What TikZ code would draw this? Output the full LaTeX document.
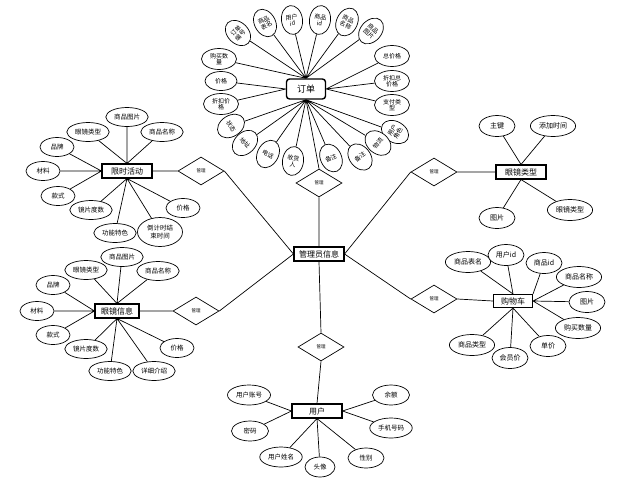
\documentclass[tikz,border=0pt]{standalone}
\usepackage{fontspec}
\setmainfont{Noto Sans CJK SC}
\usetikzlibrary{shapes.geometric}
\tikzset{
  entity/.style={draw, line width=1.1pt, minimum width=40pt, minimum height=14pt, inner xsep=4pt, inner ysep=1pt, font=\fontsize{8}{9}\selectfont},
  attr/.style={draw, fill=white, ellipse, minimum width=34pt, minimum height=19pt, inner xsep=2pt, inner ysep=1pt, font=\fontsize{6.5}{7.5}\selectfont},
  bigattr/.style={attr, minimum width=36pt, minimum height=21pt, font=\fontsize{7}{8}\selectfont},
  oattr/.style={draw, fill=white, ellipse, inner sep=0.5pt, align=center, minimum width=21pt, minimum height=29pt, font=\fontsize{6}{6.5}\selectfont},
  oside/.style={oattr, minimum width=35pt, minimum height=21pt},
  rel/.style={draw, diamond, inner sep=0pt, minimum width=46pt, minimum height=28pt, font=\fontsize{4.5}{5}\selectfont},
}
\begin{document}
\begin{tikzpicture}[x=1pt,y=-1pt,line width=0.7pt]
\useasboundingbox (0,0) rectangle (630,491);

\node[entity,minimum width=50pt] (admin) at (319,254) {管理员信息};
\node[entity,minimum width=50pt] (flash) at (127,171) {限时活动};
\node[entity,minimum width=44pt] (glasses) at (117,311) {眼镜信息};
\node[entity,minimum width=50pt] (gtype) at (521,172) {眼镜类型};
\node[entity,minimum width=39pt,minimum height=13pt] (cart) at (513,301) {购物车};
\node[entity,minimum width=50pt] (user) at (317,411) {用户};
\node[entity,rounded corners=3pt,line width=1.4pt,minimum width=39pt,minimum height=20pt,font=\fontsize{9}{10}\selectfont] (order) at (306,89) {订单};

\node[rel] (m1) at (201,171) {管理};
\node[rel] (m2) at (196,311) {管理};
\node[rel] (m3) at (319,183) {管理};
\node[rel] (m4) at (434,172) {管理};
\node[rel] (m5) at (434,299) {管理};
\node[rel] (m6) at (321,347) {管理};

\draw (flash.east) -- (m1.west) (m1.east) -- (admin.west);
\draw (glasses.east) -- (m2.west) (m2.east) -- (admin.west);
\draw (order.south) -- (m3.north) (m3.south) -- (admin.north);
\draw (admin.east) -- (m4.west) (m4.east) -- (gtype.west);
\draw (admin.east) -- (m5.west) (m5.east) -- (cart.west);
\draw (admin.south) -- (m6.north) (m6.south) -- (user.north);

\node[attr] (f1) at (127,117) {商品图片};
\node[attr] (f2) at (88,132) {眼镜类型};
\node[attr] (f3) at (162,132) {商品名称};
\node[attr] (f4) at (57,147) {品牌};
\node[attr] (f5) at (43,171) {材料};
\node[attr] (f6) at (58,196) {款式};
\node[attr] (f7) at (91,210) {镜片度数};
\node[attr] (f8) at (115,233) {功能特色};
\node[attr,align=center,minimum width=45pt,minimum height=29pt] (f9) at (160,232) {倒计时结\\束时间};
\node[attr] (f10) at (183,208) {价格};
\draw (flash.north) -- (f1) (flash.north) -- (f2) (flash.north) -- (f3);
\draw (flash.west) -- (f4) (flash.west) -- (f5) (flash.west) -- (f6);
\draw (flash.south) -- (f7) (flash.south) -- (f8) (flash.south) -- (f9) (flash.south) -- (f10);

\node[attr] (g1) at (122,257) {商品图片};
\node[attr] (g2) at (86,270) {眼镜类型};
\node[attr] (g3) at (158,271) {商品名称};
\node[attr] (g4) at (53,285) {品牌};
\node[attr] (g5) at (37,311) {材料};
\node[attr] (g6) at (53,335) {款式};
\node[attr] (g7) at (86,349) {镜片度数};
\node[attr] (g8) at (110,371) {功能特色};
\node[attr] (g9) at (154,371) {详细介绍};
\node[attr] (g10) at (177,348) {价格};
\draw (glasses.north) -- (g1) (glasses.north) -- (g2) (glasses.north) -- (g3);
\draw (glasses.west) -- (g4) (glasses.west) -- (g5) (glasses.west) -- (g6);
\draw (glasses.south) -- (g7) (glasses.south) -- (g8) (glasses.south) -- (g9) (glasses.south) -- (g10);

\node[bigattr] (t1) at (497,126) {主键};
\node[bigattr] (t2) at (553,126) {添加时间};
\node[bigattr] (t3) at (497,218) {图片};
\node[bigattr] (t4) at (570,210) {眼镜类型};
\draw (gtype.north) -- (t1) (gtype.north) -- (t2) (gtype.south) -- (t3) (gtype.south) -- (t4);

\node[bigattr] (c1) at (468,262) {商品表名};
\node[bigattr] (c2) at (506,255) {用户id};
\node[bigattr] (c3) at (544,263) {商品id};
\node[bigattr] (c4) at (579,277) {商品名称};
\node[bigattr] (c5) at (587,302) {图片};
\node[bigattr] (c6) at (578,328) {购买数量};
\node[bigattr] (c7) at (548,346) {单价};
\node[bigattr] (c8) at (510,358) {会员价};
\node[bigattr] (c9) at (472,345) {商品类型};
\draw (cart.north) -- (c1) (cart.north) -- (c2) (cart.north east) -- (c3);
\draw (cart.east) -- (c4) (cart.east) -- (c5) (cart.east) -- (c6);
\draw (cart.south) -- (c7) (cart.south) -- (c8) (cart.south) -- (c9);

\node[attr,minimum width=43pt,minimum height=20pt] (u1) at (249,395) {用户账号};
\node[attr,minimum width=37pt,minimum height=20pt] (u2) at (250,431) {密码};
\node[attr,minimum height=20pt] (u3) at (281,457) {用户姓名};
\node[attr,minimum width=30pt,minimum height=20pt] (u4) at (320,467) {头像};
\node[attr,minimum width=36pt,minimum height=20pt] (u5) at (366,458) {性别};
\node[attr,minimum height=20pt] (u6) at (391,428) {手机号码};
\node[attr,minimum width=37pt,minimum height=20pt] (u7) at (391,395) {余额};
\draw (user.west) -- (u1) (user.west) -- (u2);
\draw (user.south) -- (u3) (user.south) -- (u4) (user.south) -- (u5);
\draw (user.east) -- (u6) (user.east) -- (u7);

\node[oattr,rotate=45] (o1) at (238,33) {订单\\编号};
\node[oattr,rotate=28] (o2) at (265,23) {商品\\表名};
\node[oattr,rotate=8] (o3) at (292,20) {用户\\id};
\node[oattr,rotate=-8] (o4) at (320,20) {商品\\id};
\node[oattr,rotate=-25] (o5) at (347,22) {商品\\名称};
\node[oattr,rotate=-42] (o6) at (371,31) {商品\\图片};
\node[oside] (o7) at (392,56) {总价格};
\node[oside] (o8) at (392,81) {折扣总\\价格};
\node[oside] (o9) at (392,105) {支付类\\型};
\node[oattr,rotate=60] (o10) at (395,132) {用户\\角色};
\node[oattr,rotate=50] (o11) at (378,143) {物流};
\node[oattr,rotate=38] (o12) at (360,157) {备注};
\node[oattr,rotate=25] (o13) at (331,158) {备注};
\node[oattr,rotate=-8] (o14) at (293,161) {收货\\人};
\node[oattr,rotate=-28] (o15) at (268,154) {电话};
\node[oattr,rotate=-45] (o16) at (245,143) {地址};
\node[oattr,rotate=-58] (o17) at (231,126) {状态};
\node[oside] (o18) at (221,104) {折扣价\\格};
\node[oside,minimum width=32pt,minimum height=19pt] (o19) at (221,81) {价格};
\node[oside] (o20) at (219,59) {购买数\\量};
\draw (order.north) -- (o1) (order.north) -- (o2) (order.north) -- (o3) (order.north) -- (o4) (order.north) -- (o5) (order.north) -- (o6) (order.north) -- (o20);
\draw (order.east) -- (o7) (order.east) -- (o8) (order.east) -- (o9);
\draw (order.south) -- (o10) (order.south) -- (o11) (order.south) -- (o12) (order.south) -- (o13) (order.south) -- (o14) (order.south) -- (o15) (order.south) -- (o16) (order.south) -- (o17);
\draw (order.west) -- (o18) (order.west) -- (o19);
\end{tikzpicture}
\end{document}
